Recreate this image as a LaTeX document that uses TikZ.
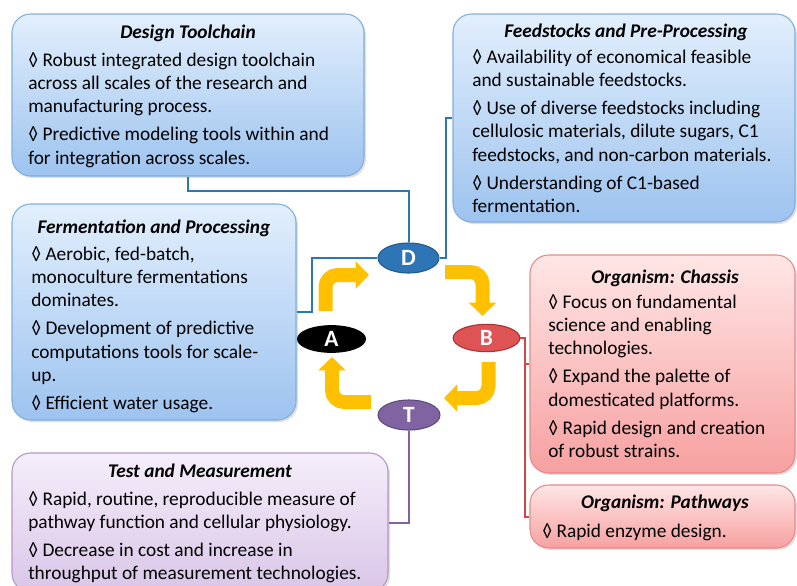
\documentclass[tikz,border=0pt]{standalone}
\usepackage{fontspec}
\setmainfont{Carlito}
\usetikzlibrary{shapes.geometric,arrows.meta,fit,shadows,calc}
\definecolor{bluetop}{HTML}{E2EFFD}
\definecolor{bluebot}{HTML}{9DC3EF}
\definecolor{blueedge}{HTML}{7FAEDF}
\definecolor{redtop}{HTML}{FFE6E6}
\definecolor{redbot}{HTML}{F7A0A0}
\definecolor{rededge}{HTML}{E58A8A}
\definecolor{purtop}{HTML}{F5EEFA}
\definecolor{purbot}{HTML}{DAC6E8}
\definecolor{puredge}{HTML}{B496C8}
\definecolor{dfill}{HTML}{2E75B6}
\definecolor{dedge}{HTML}{1F5A8F}
\definecolor{bfill}{HTML}{DE5454}
\definecolor{bedge}{HTML}{A83232}
\definecolor{tfill}{HTML}{8064A2}
\definecolor{tedge}{HTML}{5E4A7A}
\definecolor{ayellow}{HTML}{FFC000}
\definecolor{dline}{HTML}{2E75B6}
\definecolor{bline}{HTML}{D04848}
\definecolor{tline}{HTML}{8064A2}
\newcommand\bodyfont{\fontsize{14.5pt}{17.5pt}\selectfont}
\newcommand\ttlfont{\fontsize{14.5pt}{17.5pt}\selectfont\bfseries\itshape}
\newcommand\cycfont{\fontsize{17.5pt}{20pt}\selectfont\bfseries}
\begin{document}
\begin{tikzpicture}[x=0.75pt,y=-0.75pt,
  box/.style={draw, rounded corners=14pt, line width=0.8pt, inner sep=0pt,
    drop shadow={opacity=0.25, shadow xshift=1.5pt, shadow yshift=-1.5pt}},
  bluebox/.style={box, draw=blueedge, top color=bluetop, bottom color=bluebot},
  redbox/.style={box, draw=rededge, top color=redtop, bottom color=redbot},
  purbox/.style={box, draw=puredge, top color=purtop, bottom color=purbot},
  ttl/.style={font=\ttlfont, anchor=base, inner sep=0pt},
  body/.style={font=\bodyfont, anchor=north west, inner sep=0pt, align=left, yshift=12.25pt},
  cyc/.style={ellipse, draw, line width=0.8pt, inner sep=0pt, text=white, font=\cycfont},
  conn/.style={line width=1.5pt},
  yarrow/.style={draw=ayellow, line width=10.5pt, rounded corners=9pt,
    -{Triangle[width=20pt,length=10pt]}},
]
\useasboundingbox (0,0) rectangle (797,586);
\clip (0,0) rectangle (797,586);

% boxes
\node[bluebox, fit={(12,14) (364,176)}] (design) {};
\node[bluebox, fit={(453,14) (795,222)}] (feed) {};
\node[bluebox, fit={(12,204) (296,420)}] (ferm) {};
\node[redbox, fit={(530,255) (795,473)}] (chassis) {};
\node[redbox, fit={(530,485) (795,548)}] (path) {};
\node[purbox, fit={(12,453) (388,592)}] (test) {};

% texts (body nodes: first baseline at the given y)
\node[ttl] (designT) at (188,38) {Design Toolchain};
\node[body] (designB) at (28,66) {\strut◊ Robust integrated design toolchain\\
across all scales of the research and\\
manufacturing process.\\[3.5pt]
◊ Predictive modeling tools within and\\
for integration across scales.};

\node[ttl] (feedT) at (626,37) {Feedstocks and Pre-Processing};
\node[body] (feedB) at (472,63) {\strut◊ Availability of economical feasible\\
and sustainable feedstocks.\\[3.5pt]
◊ Use of diverse feedstocks including\\
cellulosic materials, dilute sugars, C1\\
feedstocks, and non-carbon materials.\\[3.5pt]
◊ Understanding of C1-based\\
fermentation.};

\node[ttl] (fermT) at (154,233) {Fermentation and Processing};
\node[body] (fermB) at (31,260) {\strut◊ Aerobic, fed-batch,\\
monoculture fermentations\\
dominates.\\[3.5pt]
◊ Development of predictive\\
computations tools for scale-\\
up.\\[3.5pt]
◊ Efficient water usage.};

\node[ttl] (chassisT) at (665,283) {Organism: Chassis};
\node[body] (chassisB) at (548,308) {\strut◊ Focus on fundamental\\
science and enabling\\
technologies.\\[3.5pt]
◊ Expand the palette of\\
domesticated platforms.\\[3.5pt]
◊ Rapid design and creation\\
of robust strains.};

\node[ttl] (pathT) at (665,508) {Organism: Pathways};
\node[body] (pathB) at (542,537) {\strut◊ Rapid enzyme design.};

\node[ttl] (testT) at (200,477) {Test and Measurement};
\node[body] (testB) at (28,505) {\strut◊ Rapid, routine, reproducible measure of\\
pathway function and cellular physiology.\\[3.5pt]
◊ Decrease in cost and increase in\\
throughput of measurement technologies.};

% cycle nodes
\node[cyc, fill=dfill, draw=dedge, minimum width=45.75pt, minimum height=22.5pt] (D) at (408.5,258) {D};
\node[cyc, fill=black, draw=black, minimum width=51pt, minimum height=20pt] (A) at (331.5,339) {A};
\node[cyc, fill=bfill, draw=bedge, minimum width=50pt, minimum height=20.5pt] (B) at (486.5,338) {B};
\node[cyc, fill=tfill, draw=tedge, minimum width=46.5pt, minimum height=22.5pt] (T) at (409,415) {T};

% connectors
\draw[conn, dline] (design.south) -- ++(0,14) -| (D.north);
\draw[conn, dline] (D.east) -- ++(6,0) |- (feed.west);
\draw[conn, dline] (D.west) -- ++(-65,0) |- (ferm.east);
\draw[conn, tline] (T.south) |- (test.east);
\draw[conn, bline] (B.east) -- ++(5,0) coordinate (bj) |- (path.west);
\draw[conn, bline] (bj |- chassis.west) -- (chassis.west);

% yellow cycle arrows
\draw[yarrow] (325.5,311) -- (325.5,275) -- (369,275);
\draw[yarrow] (445,272) -- (482.5,272) -- (482.5,316);
\draw[yarrow] (488.5,362) -- (488.5,398) -- (444,398);
\draw[yarrow] (371,402) -- (332,402) -- (332,357);
\end{tikzpicture}
\end{document}
